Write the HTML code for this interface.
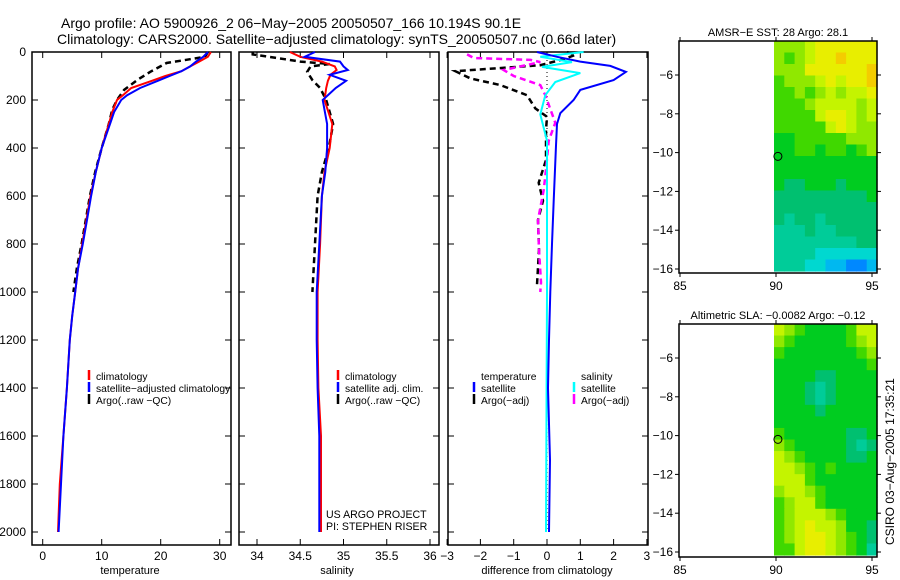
<!DOCTYPE html>
<html><head><meta charset="utf-8">
<style>
body{margin:0;background:#fff;}
svg{display:block;font-family:"Liberation Sans",sans-serif;}
text{fill:#000;}
</style></head>
<body>
<svg id="fig" width="900" height="580" viewBox="0 0 900 580">
<text x="61" y="28" font-size="14">Argo profile: AO 5900926_2 06−May−2005 20050507_166 10.194S 90.1E</text>
<text x="57" y="44" font-size="14">Climatology: CARS2000. Satellite−adjusted climatology: synTS_20050507.nc (0.66d later)</text>
<g id="p1"></g>
<g id="p2"></g>
<g id="p3"></g>
<g id="m1"></g>
<g id="m2"></g>
<text x="0" y="0" font-size="12" transform="translate(894,545) rotate(-90)">CSIRO 03−Aug−2005 17:35:21</text>
</svg>
<script>
// ---- data ----
const depthT=[0,20,40,60,80,100,120,150,180,200,250,300,400,500,600,700,800,900,1000,1100,1200,1400,1600,1800,2000];
const climT=[28.5,28,26.5,25,23.5,20.8,18.5,15,13.6,12.6,11.8,11.2,10,9,8.1,7.4,6.7,6,5.5,5,4.6,4.1,3.5,2.9,2.6];
const satT=[28,27.2,26,25,23.5,21.5,19.5,16.5,14.3,13.3,12.1,11.4,10,9,8.2,7.5,6.8,6,5.5,5,4.6,4.1,3.5,3.1,2.7];
const argoDepthT=[0,20,30,46,83,117,158,200,240,300,400,500,600,700,800,900,1000];
const argoT=[28,27.5,25,21,18.2,16,13.8,12.6,11.8,11.2,10,8.9,8,7.3,6.6,5.8,5.2];
const depthS=[0,20,40,60,75,95,120,150,200,300,400,500,600,800,1000,1200,1400,1600,2000];
const climS=[34.38,34.5,34.75,34.9,34.92,34.85,34.82,34.8,34.78,34.87,34.84,34.78,34.75,34.73,34.7,34.7,34.71,34.74,34.74];
const satS=[34.67,34.55,34.96,35.0,35.05,34.84,35.03,34.91,34.76,34.81,34.81,34.79,34.75,34.72,34.69,34.69,34.7,34.72,34.72];
const argoDepthS=[0,10,30,40,50,60,83,117,150,200,300,400,500,600,800,1000];
const argoS=[33.95,33.95,34.32,34.5,34.84,34.62,34.58,34.64,34.73,34.8,34.88,34.83,34.75,34.7,34.67,34.64];
const diffDepthT=[0,20,40,58,83,117,158,200,255,300,390,620,800,1000,1200,1400,1700,2000];
const satTdiff=[-0.3,0.3,1.0,1.9,2.37,2.0,1.0,0.8,0.4,0.3,0.27,0.2,0.15,0.1,0.06,0.03,0.09,0.06];
const diffDepthS=[0,20,42,62,88,125,180,260,370,1000,2000];
const satSdiff=[1.1,-0.2,0.75,-0.15,1.0,0.25,-0.05,-0.2,0,0,-0.03];
const argoDepthSd=[10,25,33,42,75,100,138,180,295,370,490,575,700,825,960,1000];
const argoSdiff=[-2.4,-2.2,-0.5,-0.2,-1.3,-1.0,-0.2,-0.05,0.25,0.05,-0.03,-0.1,-0.27,-0.24,-0.18,-0.2];
const argoDepthTd=[0,12,30,55,80,110,138,180,235,270,325,450,545,620,700,825,970];
const argoTdiff=[0.6,0.85,0.5,-0.2,-2.75,-2.3,-1.4,-0.6,-0.35,0,-0.03,-0.03,-0.25,-0.12,-0.27,-0.24,-0.3];
const depthTicks=[0,200,400,600,800,1000,1200,1400,1600,1800,2000];
const tempTicks=[0,10,20,30];
const salTicks=[34,34.5,35,35.5,36];
const diffTicks=[-3,-2,-1,0,1,2,3];
const sstGrid=[
[7,7,7,8,9,9,9,9,9,9],[7,6,7,8,9,9,10,9,9,9],[7,7,7,9,9,9,9,9,9,10],[6,7,7,7,8,9,8,9,9,10],
[6,6,7,6,7,8,7,8,8,9],[6,6,6,7,8,8,8,8,7,8],[6,6,6,6,8,9,9,8,7,8],[6,6,6,6,6,8,9,8,7,7],
[5,5,6,6,6,6,6,7,7,7],[5,5,6,6,5,6,6,5,6,7],[5,5,5,5,5,5,5,5,5,5],[5,5,5,5,5,5,5,5,5,5],
[5,4,4,5,5,5,4,5,5,5],[4,4,4,4,4,4,4,4,4,5],[4,4,4,4,4,4,4,4,4,4],[4,3,4,4,3,4,4,4,4,4],
[3,3,3,4,3,3,4,4,4,4],[3,3,3,3,3,3,3,3,4,4],[3,3,3,3,2,2,2,2,2,2],[3,3,3,2,2,1,1,0,0,1]];
const slaGrid=[
[8,7,6,5,5,5,5,6,8,8],[7,6,5,5,5,5,5,6,7,8],[6,5,5,5,5,5,5,5,6,7],[5,5,5,5,5,5,5,5,5,6],
[5,5,5,5,4,4,5,5,5,5],[5,5,5,4,3,4,5,5,5,5],[5,5,5,4,3,4,5,5,5,5],[5,5,5,5,4,5,5,5,5,5],
[5,5,5,5,5,5,5,5,5,5],[6,5,5,5,5,5,5,4,4,5],[7,6,5,5,5,5,5,4,3,4],[8,7,6,5,5,5,5,4,4,5],
[8,8,7,6,5,6,5,5,5,5],[8,8,8,6,5,5,5,5,5,5],[7,8,8,7,6,5,5,5,5,5],[6,7,8,8,6,5,5,5,5,5],
[6,7,8,8,8,7,6,5,5,5],[6,7,8,9,8,8,7,5,5,4],[6,7,8,9,9,8,7,6,5,4],[6,6,8,9,9,8,7,6,5,3]];
const mapXTicks=[85,90,95];
const mapYTicks=[-6,-8,-10,-12,-14,-16];
const argoLon=90.1, argoLat=-10.194;

const NS='http://www.w3.org/2000/svg';
function mk(tag,attrs,parent){const e=document.createElementNS(NS,tag);for(const k in attrs)e.setAttribute(k,attrs[k]);parent.appendChild(e);return e;}
const yD=p=>52+p*0.24;
const xT=t=>42.7+t*5.9;
const xS=s=>257+(s-34)*86.5;
const xDf=d=>547+d*33.3;

function frame(g,x0,x1,name){
  const r=mk('rect',{x:x0,y:52,width:x1-x0,height:493,fill:'none',stroke:'#000','stroke-width':1.5},g);
  
  
  depthTicks.forEach(d=>{
    mk('line',{x1:x0,x2:x0+6,y1:yD(d),y2:yD(d),stroke:'#000'},g);
    mk('line',{x1:x1,x2:x1-6,y1:yD(d),y2:yD(d),stroke:'#000'},g);
  });
}
function xticks(g,ticks,fx,labels,title,tx){
  ticks.forEach(v=>{
    mk('line',{x1:fx(v),x2:fx(v),y1:545,y2:539,stroke:'#000'},g);
    mk('line',{x1:fx(v),x2:fx(v),y1:52,y2:58,stroke:'#000'},g);
    const t=mk('text',{x:fx(v),y:560,'font-size':12,'text-anchor':'middle'},g);
    t.textContent=String(v).replace('-','−');
    
    
  });
  const tt=mk('text',{x:tx,y:574,'font-size':11,'text-anchor':'middle'},g);
  tt.textContent=title;
  
  
}
function line(g,xs,ds,fx,color,dash,name,w){
  const pts=xs.map((v,i)=>fx(v).toFixed(1)+','+yD(ds[i]).toFixed(1)).join(' ');
  const a={points:pts,fill:'none',stroke:color,'stroke-width':w||2};
  if(dash)a['stroke-dasharray']=dash;
  const p=mk('polyline',a,g);
  
  
}
function legend(g,x,y,color,label){
  mk('line',{x1:x,x2:x,y1:y-6,y2:y+4,stroke:color,'stroke-width':2.5},g);
  if(label){const t=mk('text',{x:x+7,y:y+4,'font-size':10.3},g);t.textContent=label;
  
  }
}

// panel 1
const p1=document.getElementById('p1');
frame(p1,32,231,'temperature-panel');
depthTicks.forEach(d=>{const t=mk('text',{x:26,y:yD(d)+4,'font-size':12,'text-anchor':'end'},p1);t.textContent=d;

});
xticks(p1,tempTicks,xT,null,'temperature',130);
line(p1,argoT,argoDepthT,xT,'#000','6,4','argo-temperature-line',2.5);
line(p1,climT,depthT,xT,'#f00',null,'climatology-temperature-line');
line(p1,satT,depthT,xT,'#00f',null,'satellite-temperature-line');
legend(p1,89,376,'#f00','climatology');
legend(p1,89,388,'#00f','satellite−adjusted climatology');
legend(p1,89,400,'#000','Argo(..raw −QC)');

// panel 2
const p2=document.getElementById('p2');
frame(p2,239,439,'salinity-panel');
xticks(p2,salTicks,xS,null,'salinity',337);
line(p2,argoS,argoDepthS,xS,'#000','6,4','argo-salinity-line',2.5);
line(p2,climS,depthS,xS,'#f00',null,'climatology-salinity-line');
line(p2,satS,depthS,xS,'#00f',null,'satellite-salinity-line');
legend(p2,338,376,'#f00','climatology');
legend(p2,338,388,'#00f','satellite adj. clim.');
legend(p2,338,400,'#000','Argo(..raw −QC)');
[['US ARGO PROJECT',518],['PI: STEPHEN RISER',530]].forEach(([s,y])=>{const t=mk('text',{x:326,y:y,'font-size':10.6},p2);t.textContent=s;

});

// panel 3
const p3=document.getElementById('p3');
frame(p3,448,648,'difference-panel');
xticks(p3,diffTicks,xDf,null,'difference from climatology',547);
mk('line',{x1:547,x2:547,y1:52,y2:532,stroke:'#000','stroke-dasharray':'1,3'},p3);
line(p3,argoTdiff,argoDepthTd,xDf,'#000','6,4','argo-temperature-diff-line',2.5);
line(p3,argoSdiff,argoDepthSd,xDf,'#f0f','6,4','argo-salinity-diff-line',2.5);
line(p3,satSdiff,diffDepthS,xDf,'#0ff',null,'satellite-salinity-diff-line');
line(p3,satTdiff,diffDepthT,xDf,'#00f',null,'satellite-temperature-diff-line');
[['temperature',481,380],['salinity',581,380]].forEach(([s,x,y])=>{const t=mk('text',{x:x,y:y,'font-size':10.3},p3);t.textContent=s;

});
legend(p3,474,388,'#00f','satellite');
legend(p3,474,400,'#000','Argo(−adj)');
legend(p3,574,388,'#0ff','satellite');
legend(p3,574,400,'#f0f','Argo(−adj)');

// maps
const cmap=['#0088ff','#00b8f0','#00d8d0','#00cc99','#00c070','#00cc20','#40d800','#90e800','#c4f400','#e8ee00','#f4cc00'];
function map(id,top,bottom,grid,title){
  const g=document.getElementById(id);
  const x0=679,x1=877;
  const fx=lon=>776+(lon-90)*19.2;
  const yLat=v=>top+(75-41)+(-6-v)*19.4;
  const t=mk('text',{x:778,y:top-5,'font-size':11,'text-anchor':'middle'},g);t.textContent=title;
  
  
  const rows=grid.length,cols=grid[0].length;
  const cw=(x1-774)/cols,ch=(bottom-2-top)/rows;
  grid.forEach((row,i)=>row.forEach((v,j)=>{
    const c=mk('rect',{x:(774+j*cw).toFixed(2),y:(top+i*ch).toFixed(2),width:(cw+0.6).toFixed(2),height:(ch+0.6).toFixed(2),fill:cmap[v]},g);
    
    
  }));
  const r=mk('rect',{x:x0,y:top,width:x1-x0,height:bottom-top,fill:'none',stroke:'#000','stroke-width':1.5},g);
  
  
  mapXTicks.forEach(v=>{
    mk('line',{x1:fx(v),x2:fx(v),y1:bottom,y2:bottom+4,stroke:'#000'},g);
    mk('line',{x1:fx(v),x2:fx(v),y1:top,y2:top-4,stroke:'#000'},g);
    const l=mk('text',{x:fx(v),y:bottom+17,'font-size':12,'text-anchor':'middle'},g);l.textContent=v;
    
    
  });
  mapYTicks.forEach(v=>{
    mk('line',{x1:x0,x2:x0-4,y1:yLat(v),y2:yLat(v),stroke:'#000'},g);
    mk('line',{x1:x1,x2:x1+4,y1:yLat(v),y2:yLat(v),stroke:'#000'},g);
    const l=mk('text',{x:x0-6,y:yLat(v)+4,'font-size':12,'text-anchor':'end'},g);l.textContent=String(v).replace('-','−');
    
    
  });
  const m=mk('circle',{cx:fx(argoLon),cy:yLat(argoLat),r:4,fill:'none',stroke:'#000','stroke-width':1},g);
  
  
}
map('m1',41,273,sstGrid,'AMSR−E SST: 28 Argo: 28.1');
map('m2',324,557,slaGrid,'Altimetric SLA: −0.0082 Argo: −0.12');
</script>
</body></html>
